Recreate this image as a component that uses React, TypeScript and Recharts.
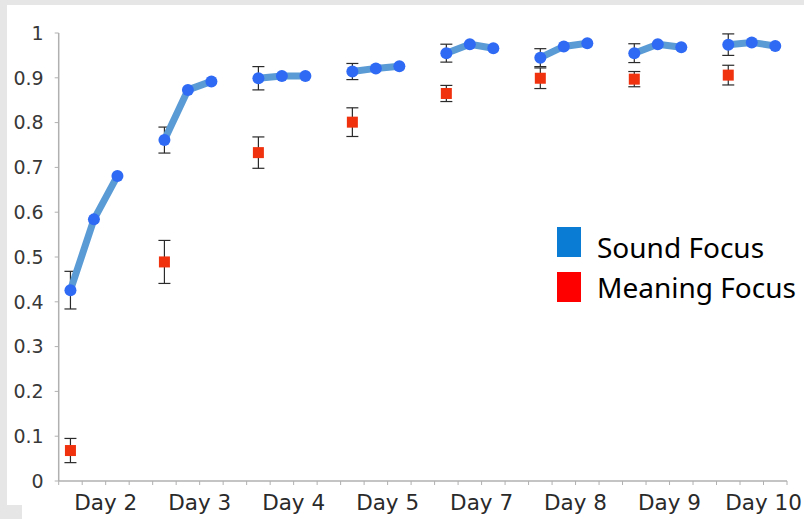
import { ComposedChart, Line, XAxis, YAxis, ErrorBar, Legend } from 'recharts'

const days = ['Day 2', 'Day 3', 'Day 4', 'Day 5', 'Day 7', 'Day 8', 'Day 9', 'Day 10']

// three sessions per day, sound-focus group
const soundValues = [
  [0.426, 0.584, 0.681],
  [0.761, 0.873, 0.892],
  [0.899, 0.904, 0.904],
  [0.914, 0.921, 0.926],
  [0.955, 0.975, 0.966],
  [0.945, 0.970, 0.977],
  [0.955, 0.975, 0.968],
  [0.974, 0.979, 0.971],
]
const soundErr = [0.042, 0.029, 0.026, 0.018, 0.02, 0.02, 0.021, 0.024]

// meaning-focus group, first session only
const meaningValues = [0.068, 0.489, 0.733, 0.801, 0.865, 0.899, 0.897, 0.906]
const meaningErr = [0.027, 0.048, 0.035, 0.032, 0.018, 0.023, 0.017, 0.022]

const yTicks = [0, 0.1, 0.2, 0.3, 0.4, 0.5, 0.6, 0.7, 0.8, 0.9, 1]

const legendItems = [
  { label: 'Sound Focus', color: '#0a7cd4' },
  { label: 'Meaning Focus', color: '#ff0000' },
]

const SLOTS = days.length * 4 - 1

// one row per slot; gap slots break the line
const data: Record<string, number | null>[] = []
for (let s = 0; s < SLOTS; s++) {
  const d = Math.floor(s / 4)
  const k = s % 4
  data.push({
    x: s + 0.5,
    sound: k < 3 ? soundValues[d][k] : null,
    soundErr: k === 0 ? soundErr[d] : null,
    meaning: k === 0 ? meaningValues[d] : null,
    meaningErr: k === 0 ? meaningErr[d] : null,
  })
}

const xTicks = Array.from({ length: SLOTS + 1 }, (_, i) => i)

function xLabel(v: number) {
  if (v % 4 === 2) return days[(v - 2) / 4] ?? ''
  return ''
}

function yLabel(v: number) {
  if (v === 0) return '0'
  if (v === 1) return '1'
  return v.toFixed(1)
}

const SquareDot = (props: { cx?: number; cy?: number; index?: number }) => {
  const { cx, cy, index } = props
  if (cx == null || cy == null || isNaN(cy)) return <g key={index} />
  return <rect key={index} x={cx - 5.5} y={cy - 5.5} width={11} height={11} fill="#f0320f" />
}

const LegendBox = () => (
  <div style={{ fontFamily: '"Noto Sans", sans-serif', fontSize: 28, color: '#000' }}>
    {legendItems.map((it, i) => (
      <div key={it.label} style={{ display: 'flex', alignItems: 'center', height: 30, marginBottom: 15 }}>
        <span style={{ width: 24, height: 30, background: it.color, display: 'inline-block', marginRight: 16 }} />
        <span style={{ lineHeight: '30px', whiteSpace: 'nowrap', position: 'relative', top: i === 0 ? 5 : 0 }}>{it.label}</span>
      </div>
    ))}
  </div>
)

export default function App() {
  return (
    <div style={{ position: 'absolute', left: 0, top: 0, width: 804, height: 519, background: '#e6e6e6' }}>
      <div style={{ position: 'absolute', left: 7, top: 5, width: 797, height: 514, background: '#fff' }} />
      <div style={{ position: 'absolute', left: 0, top: 505, width: 22, height: 14, background: '#e6e6e6' }} />
      <div style={{ position: 'absolute', left: 0, top: 0 }}>
        <ComposedChart width={804} height={519} data={data} margin={{ top: 33, right: 17, left: 0, bottom: 8 }}>
          <XAxis
            dataKey="x"
            type="number"
            domain={[0, SLOTS]}
            ticks={xTicks}
            interval={0}
            tickFormatter={xLabel}
            axisLine={{ stroke: '#b0b0b0', strokeWidth: 1.5 }}
            tickLine={{ stroke: '#b0b0b0' }}
            tickSize={4}
            tickMargin={10}
            height={30}
            tick={{ fontSize: 21.5, fill: '#2a2a2a', fontFamily: '"DejaVu Sans", sans-serif' }}
          />
          <YAxis
            type="number"
            domain={[0, 1]}
            ticks={yTicks}
            interval={0}
            tickFormatter={yLabel}
            axisLine={{ stroke: '#b0b0b0', strokeWidth: 1.5 }}
            tickLine={{ stroke: '#b0b0b0' }}
            tickSize={4}
            tickMargin={11}
            width={58.7}
            tick={{ fontSize: 19, fill: '#383838', fontFamily: '"DejaVu Sans", sans-serif' }}
          />
          <Legend
            layout="vertical"
            align="center"
            verticalAlign="middle"
            content={<LegendBox />}
            wrapperStyle={{ left: 557, top: 227, width: 250 }}
          />
          <Line
            dataKey="sound"
            stroke="#5b9bd5"
            strokeWidth={7}
            strokeLinecap="round"
            strokeLinejoin="round"
            connectNulls={false}
            dot={{ r: 6, fill: '#2f6af5', stroke: 'none' }}
            activeDot={false}
            isAnimationActive={false}
          >
            <ErrorBar dataKey="soundErr" direction="y" width={6} stroke="#2a2a2a" strokeWidth={1.2} />
          </Line>
          <Line
            dataKey="meaning"
            stroke="transparent"
            strokeWidth={0}
            connectNulls={false}
            dot={SquareDot}
            activeDot={false}
            isAnimationActive={false}
          >
            <ErrorBar dataKey="meaningErr" direction="y" width={6} stroke="#2a2a2a" strokeWidth={1.2} />
          </Line>
        </ComposedChart>
      </div>
    </div>
  )
}
